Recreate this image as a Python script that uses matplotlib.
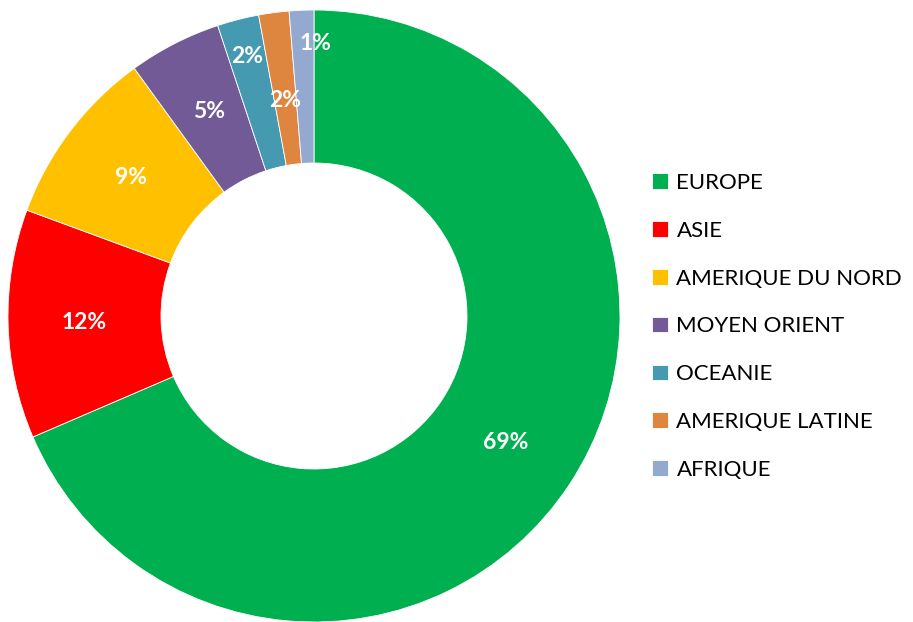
import matplotlib
matplotlib.use("Agg")
import matplotlib.pyplot as plt
import numpy as np

regions = ["EUROPE", "ASIE", "AMERIQUE DU NORD", "MOYEN ORIENT", "OCEANIE", "AMERIQUE LATINE", "AFRIQUE"]
shares = [68.6, 12.1, 9.4, 4.9, 2.2, 1.6, 1.3]
colors = ["#00B050", "#FF0000", "#FFC000", "#725A96", "#4599B0", "#DE8640", "#94A9D0"]
label_radius = [0.75, 0.75, 0.75, 0.75, 0.875, 0.71, 0.89]
label_dx = [0, 0, 0, 0, 0, 0, 0.04]

plt.rcParams['font.family'] = ['Lato', 'DejaVu Sans']

fig = plt.figure(figsize=(9.13, 6.22), dpi=100)
ax = fig.add_axes([8/913, 0/622, 612/913, 612/622])
wedges, _ = ax.pie(shares, colors=colors, startangle=90, counterclock=False,
                   radius=1.0, wedgeprops=dict(width=0.5, edgecolor='white', linewidth=0.6))
total = sum(shares)
for w, v, r, dx in zip(wedges, shares, label_radius, label_dx):
    ang = np.deg2rad((w.theta1 + w.theta2) / 2)
    x = r * np.cos(ang) + dx
    y = r * np.sin(ang)
    ax.text(x, y, f"{v/total*100:.0f}%", ha='center', va='center', color='white',
            fontsize=16.5, fontweight='bold')
ax.set_xlim(-1, 1)
ax.set_ylim(-1, 1)
ax.set_aspect('equal')
ax.axis('off')

leg = fig.legend(wedges, regions, loc='upper left', bbox_to_anchor=(652/913, 1 - 173/622),
                 frameon=False, fontsize=16, handlelength=0.7, handleheight=0.7,
                 handletextpad=0.4, labelspacing=1.25, borderaxespad=0, borderpad=0)
fig.savefig("out.png", dpi=100)
